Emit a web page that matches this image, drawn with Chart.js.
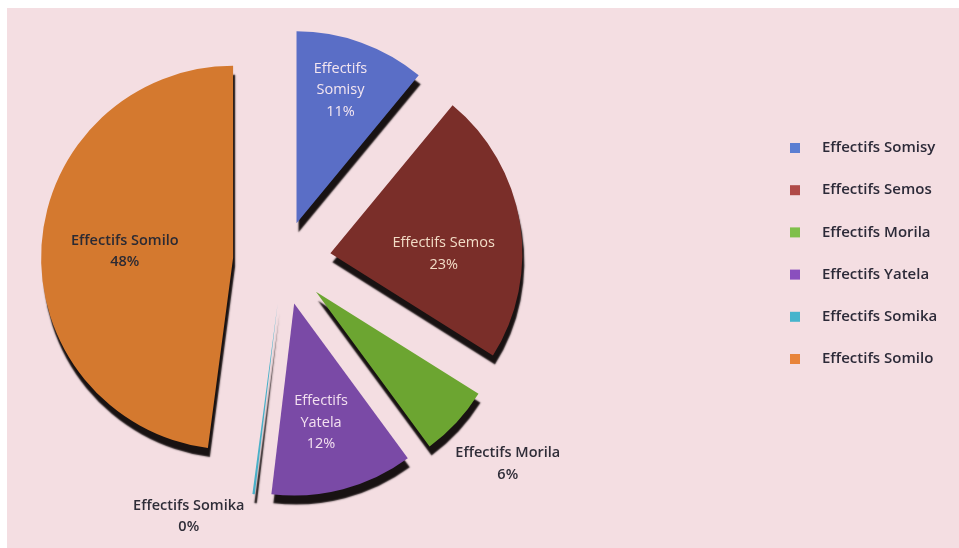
<!DOCTYPE html>
<html>
<head>
<meta charset="utf-8">
<style>
  html, body { margin: 0; padding: 0; background: #ffffff; }
  canvas { display: block; }
</style>
<script src="https://cdn.jsdelivr.net/npm/chart.js@4.4.1/dist/chart.umd.min.js"></script>
</head>
<body>
<canvas id="c" width="959" height="548"></canvas>
<script>
// ---- data ----
const categories = ['Effectifs Somisy', 'Effectifs Semos', 'Effectifs Morila', 'Effectifs Yatela', 'Effectifs Somika', 'Effectifs Somilo'];
const values = [11, 23, 6, 12, 0.2, 48];   // percentages; Somika is a sliver shown as 0%

// ---- styling ----
const sliceColors  = ['#5a6ec6', '#7a2e29', '#6ca531', '#7a4aa6', '#4ab0c8', '#d4792f'];
const legendColors = ['#5b7ed2', '#b04a48', '#7fbf4a', '#8a4fbe', '#46b4cc', '#e8843a'];
const explode      = [40, 48, 45, 44, 43, 50];                 // explode distance in px
const labelRadius  = [0.73, 0.59, 1.343, 0.635, 1.2, 0.565];   // label distance as fraction of radius
const labelTurn    = [-1.5, 9.5, -1, 2, 15.5, -0.4];           // label angle tweak in degrees
const labelWrap    = [true, false, false, true, false, false];
const labelColors  = ['#f4e6f0', '#f2dcc6', '#2f2d38', '#f3e0f0', '#2f2d38', '#2b2a33'];
const labelWeight  = [400, 400, 600, 400, 600, 600];

const FONT = '"Open Sans", "Lato", sans-serif';

const backgroundPlugin = {
  id: 'paper',
  beforeDraw(chart) {
    const c = chart.ctx;
    c.save();
    c.fillStyle = '#ffffff';
    c.fillRect(0, 0, chart.width, chart.height);
    c.fillStyle = '#f4dee2';
    c.fillRect(7, 8, chart.width - 7, chart.height - 8);
    c.restore();
  }
};

// push each slice outwards along its bisector (exploded pie)
const explodePlugin = {
  id: 'explode',
  afterDatasetUpdate(chart, args) {
    const meta = chart.getDatasetMeta(args.index);
    meta.data.forEach((arc, i) => {
      const mid = (arc.startAngle + arc.endAngle) / 2;
      arc.x += Math.cos(mid) * explode[i];
      arc.y += Math.sin(mid) * explode[i];
    });
  }
};

const depthPlugin = {
  id: 'depth',
  beforeDatasetDraw(chart) {
    const c = chart.ctx;
    c.save();
    c.shadowColor = 'rgba(12,6,6,0.95)';
    c.shadowOffsetX = 2;
    c.shadowOffsetY = 9;
    c.shadowBlur = 1.5;
  },
  afterDatasetDraw(chart) {
    chart.ctx.restore();
  }
};

const labelPlugin = {
  id: 'sliceLabels',
  afterDatasetsDraw(chart) {
    const c = chart.ctx;
    const meta = chart.getDatasetMeta(0);
    const total = values.reduce((a, b) => a + b, 0);
    c.save();
    c.textAlign = 'center';
    c.textBaseline = 'middle';
    meta.data.forEach((arc, i) => {
      const mid = (arc.startAngle + arc.endAngle) / 2;
      const a = mid + labelTurn[i] * Math.PI / 180;
      const lx = arc.x + Math.cos(a) * arc.outerRadius * labelRadius[i];
      const ly = arc.y + Math.sin(a) * arc.outerRadius * labelRadius[i];
      const lines = labelWrap[i] ? categories[i].split(' ') : [categories[i]];
      lines.push(Math.round(values[i] / total * 100) + '%');
      const lh = 21.5;
      const y0 = ly - (lines.length - 1) * lh / 2;
      c.font = labelWeight[i] + ' 14.5px ' + FONT;
      c.fillStyle = labelColors[i];
      lines.forEach((t, k) => c.fillText(t, lx, y0 + k * lh));
    });
    c.restore();
  }
};

const legendPlugin = {
  id: 'sideLegend',
  afterDraw(chart) {
    const c = chart.ctx;
    c.save();
    c.font = '600 15px ' + FONT;
    c.textAlign = 'left';
    c.textBaseline = 'middle';
    const x0 = 790, yStart = 148, step = 42.2;
    categories.forEach((name, i) => {
      const y = yStart + i * step;
      c.fillStyle = legendColors[i];
      c.fillRect(x0, y - 5, 10, 10);
      c.fillStyle = '#2c2a38';
      c.fillText(name, x0 + 32, y);
    });
    c.restore();
  }
};

new Chart(document.getElementById('c'), {
  type: 'pie',
  data: {
    labels: categories,
    datasets: [{
      data: values,
      backgroundColor: sliceColors,
      borderWidth: 0,
      radius: 192
    }]
  },
  options: {
    responsive: false,
    animation: false,
    layout: { padding: { left: 0, right: 393, top: 0, bottom: 26 } },
    plugins: {
      legend: { display: false },
      tooltip: { enabled: false }
    }
  },
  plugins: [backgroundPlugin, explodePlugin, depthPlugin, labelPlugin, legendPlugin]
});
</script>
</body>
</html>
